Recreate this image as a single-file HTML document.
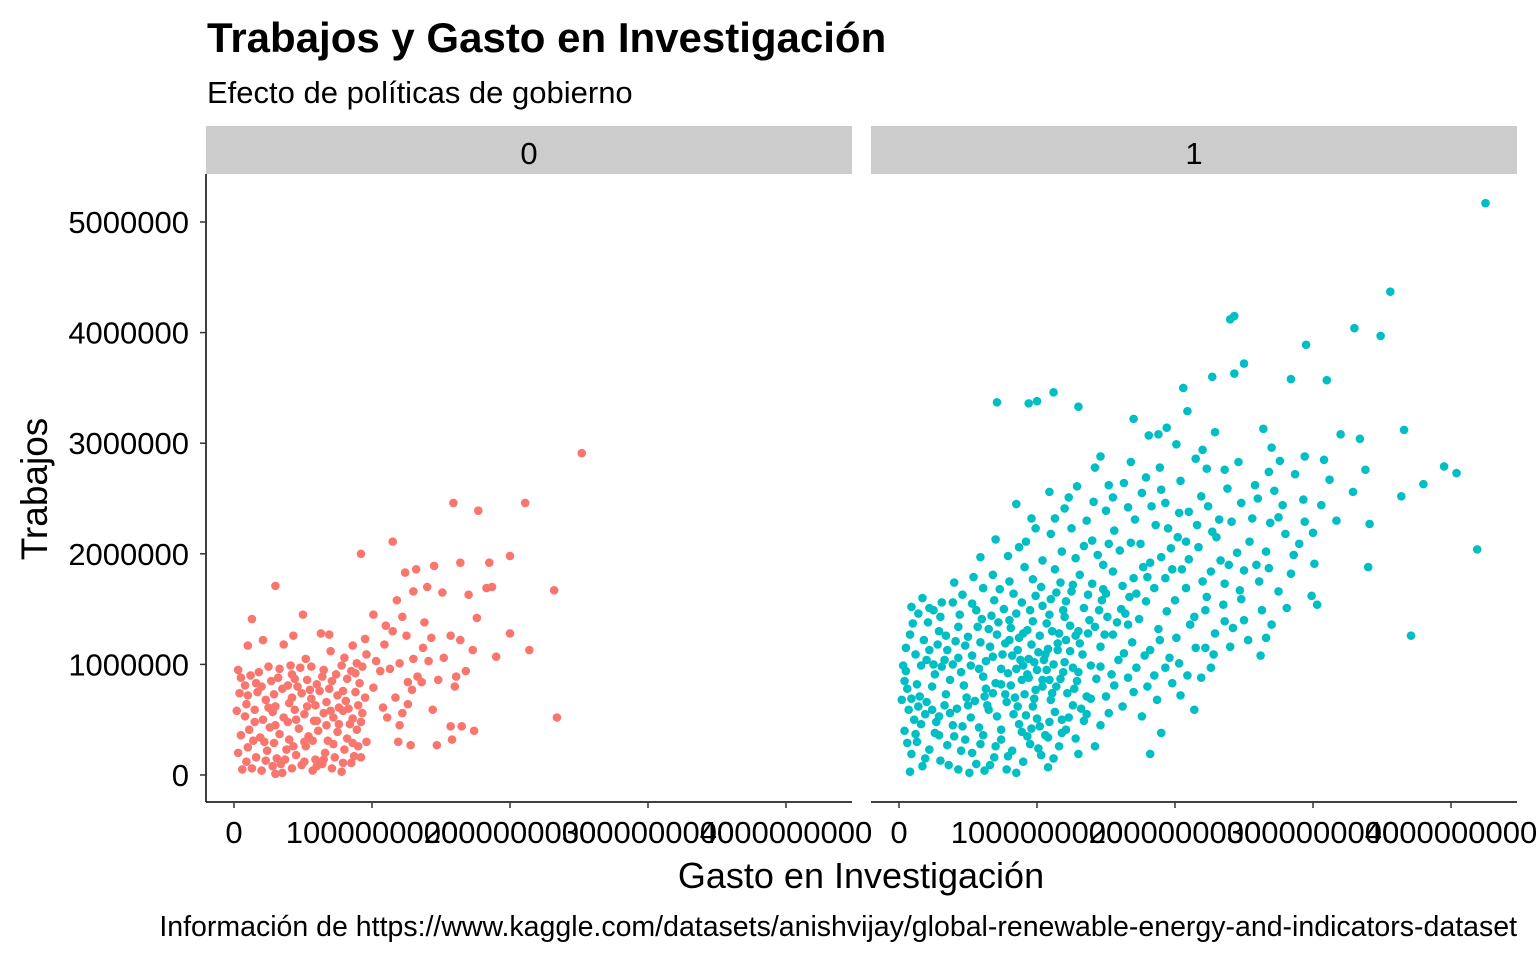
<!DOCTYPE html>
<html><head><meta charset="utf-8"><style>
body{margin:0;background:#fff;}
svg text{font-family:"Liberation Sans",Arial,sans-serif;}
</style></head><body>
<svg id="chart" width="1536" height="960" xmlns="http://www.w3.org/2000/svg">
<rect width="1536" height="960" fill="#fff"/>
<text x="207" y="52" font-size="42" font-weight="bold">Trabajos y Gasto en Investigación</text>
<text x="207" y="103" font-size="31">Efecto de políticas de gobierno</text>
<rect x="206" y="126" width="646" height="48" fill="#cccccc"/>
<text x="529" y="164" font-size="31" text-anchor="middle">0</text>
<rect x="871" y="126" width="646" height="48" fill="#cccccc"/>
<text x="1194" y="164" font-size="31" text-anchor="middle">1</text>
<text transform="translate(47,489) rotate(-90)" font-size="37" text-anchor="middle">Trabajos</text>
<text x="861" y="888" font-size="36" text-anchor="middle">Gasto en Investigación</text>
<text x="1517" y="936" font-size="28.5" text-anchor="end">Información de https://www.kaggle.com/datasets/anishvijay/global-renewable-energy-and-indicators-dataset</text>
<g id="axes"></g>
<g id="points"></g>
</svg>
<script>
// x values in units of 1e8 (spend), y values in units of 1e5 (jobs)
const xTicks = [0, 1000000000, 2000000000, 3000000000, 4000000000];
const xTickLabels = ["0", "1000000000", "2000000000", "3000000000", "4000000000"];
const yTicks = [0, 1000000, 2000000, 3000000, 4000000, 5000000];
const yTickLabels = ["0", "1000000", "2000000", "3000000", "4000000", "5000000"];
const panels = ["0", "1"];
const panel0Points = [
[25.2,29.1],[21.1,24.6],[15.9,24.6],[17.7,23.9],[23.2,16.7],[23.4,5.2],[21.4,11.3],[20.0,19.8],[20.0,12.8],[18.5,19.2],[11.5,21.1],[9.2,20.0],[3.0,17.1],[1.3,14.1],[5.0,14.5],[6.9,12.7],
[18.7,17.0],[18.3,16.9],[16.4,19.2],[14.5,18.9],[13.2,18.6],[12.4,18.3],[14.0,17.0],[13.0,16.6],[15.1,16.5],[17.0,16.3],[11.8,15.8],[12.2,14.3],[10.1,14.5],[11.0,13.5],[11.5,13.0],[12.5,12.6],[13.8,13.8],[14.3,12.4],[15.7,12.6],[16.4,12.2],[17.6,14.2],[17.3,11.3],[19.0,10.7],[16.8,9.4],[16.1,8.9],[14.8,8.6],[13.6,8.4],[12.9,7.7],[13.3,8.9],[11.7,7.0],[12.6,6.4],[10.8,6.1],[12.2,5.6],[11.1,5.2],[12.0,4.5],[14.4,5.9],[15.7,4.4],[16.5,4.4],[17.4,4.0],[15.8,3.2],[14.7,2.7],[11.9,3.0],[12.8,2.7],[10.1,7.9],[10.6,9.4],[11.3,9.6],[12.0,10.1],[13.0,10.5],[14.1,10.3],[15.2,10.6],[16.0,8.0],[9.3,9.8],[9.6,10.9],[8.6,11.7],[9.5,12.3],[8.8,9.2],
[0.3,9.5],[0.5,8.8],[1.2,9.0],[1.8,9.3],[2.5,9.8],[3.3,9.6],[4.1,9.9],[4.8,9.7],[5.6,9.8],[6.5,9.5],[7.4,9.1],[8.2,8.7],[0.4,7.4],[1.0,7.2],[1.7,7.5],[2.3,6.8],[2.9,7.3],[3.5,7.8],[4.2,7.0],[4.9,7.4],[5.6,6.9],[6.2,7.6],[6.9,7.8],[7.5,7.2],[8.1,6.7],[8.8,7.5],[9.5,7.0],[0.2,5.8],[0.8,5.3],[1.5,5.9],[2.1,5.0],[2.8,5.7],[3.6,5.2],[4.4,5.9],[5.1,5.5],[5.8,4.9],[6.5,5.6],[7.2,5.2],[7.9,5.8],[8.6,5.1],[9.3,5.6],[0.5,3.6],[1.1,4.1],[1.9,3.4],[2.6,4.3],[3.3,3.7],[4.0,3.2],[4.7,4.2],[5.4,3.5],[6.1,4.0],[6.8,3.1],[7.5,3.9],[8.2,3.3],[8.9,4.1],[9.6,3.0],[0.3,2.0],[1.0,2.5],[1.6,1.6],[2.4,2.2],[3.1,1.5],[3.8,2.3],[4.5,1.8],[5.2,2.6],[5.9,1.4],[6.6,2.0],[7.3,1.6],[8.0,2.3],[8.7,1.7],[0.6,0.5],[1.3,0.6],[2.0,0.4],[2.8,0.8],[3.5,0.2],[4.2,0.6],[4.9,0.9],[5.7,0.4],[6.4,1.0],[7.1,0.6],[7.8,0.3],[8.5,1.1],[3.0,0.1],[1.6,8.3],[2.7,8.5],[3.9,8.1],[5.3,8.6],[6.0,8.2],[7.1,8.5],[7.8,9.9],[8.5,9.4],[4.6,8.0],[5.9,6.3],[3.0,6.2],[7.6,6.1],[9.1,8.3],[6.3,12.8],[4.3,12.6],[2.1,12.2],[3.6,11.8],[1.0,11.7],[7.0,11.2],[8.0,10.6],[5.2,10.5],[3.9,4.8],[6.7,4.5],[8.4,4.6],[2.2,3.0],[5.1,3.0],[9.0,2.6],[3.4,1.0],[6.0,0.8],
[0.8,8.1],[2.0,8.0],[3.2,8.8],[4.4,8.7],[5.5,7.7],[6.7,6.6],[7.9,7.6],[9.0,6.3],[0.9,6.4],[2.5,6.1],[4.0,6.5],[5.3,6.2],[7.0,5.8],[8.3,6.0],[1.5,4.8],[3.0,4.5],[4.5,5.0],[6.0,4.9],[7.6,4.6],[9.2,4.8],[1.4,3.1],[2.9,2.9],[4.3,2.6],[5.7,3.1],[7.2,2.8],[8.6,2.9],[0.9,1.2],[2.3,1.3],[3.7,1.4],[5.1,1.2],[6.5,1.4],[7.9,1.1],[9.2,1.6],[4.2,9.1],[6.4,8.9],[8.9,10.1],[10.3,10.3],[10.9,11.8],[12.6,8.4],[13.7,11.5]
];
const panel1Points = [
[42.5,51.7],[35.6,43.7],[33.0,40.4],[34.9,39.7],[24.3,41.5],[24.0,41.2],[29.5,38.9],[25.0,37.2],[24.3,36.3],[20.6,35.0],[22.7,36.0],[28.4,35.8],[31.0,35.7],[10.0,33.8],[11.2,34.6],[13.0,33.3],[7.1,33.7],[9.4,33.6],[36.6,31.2],[39.5,27.9],[40.4,27.3],[38.0,26.3],[41.9,20.4],[37.1,12.6],[36.4,25.2],[34.0,18.8],[34.1,22.7],[33.8,27.6],[33.4,30.4],[32.0,30.8],[30.6,24.4],[30.3,15.4],[29.9,16.2],[26.6,12.4],[22.6,9.7],[21.4,5.9],[18.2,1.9],[19.0,3.8],
[20.9,32.9],[19.4,31.4],[17.0,32.2],[18.8,30.8],[22.9,31.0],[26.4,31.3],[24.6,28.3],[26.8,27.4],[27.6,28.4],[28.7,27.2],[30.8,28.5],[29.4,22.9],[27.5,23.3],[25.8,26.2],[23.8,25.9],[22.3,27.7],[21.5,28.6],[20.1,29.9],[18.1,30.7],[16.8,28.3],[14.2,27.8],[12.9,26.1],[10.9,25.6],[8.5,24.5],[9.6,23.2],[12.0,24.1],[14.1,24.7],[15.5,25.1],[17.6,25.5],[19.3,24.6],[21.0,23.8],[22.4,24.3],[24.1,22.9],[25.6,23.2],[27.2,25.7],[29.0,20.9],[30.1,19.1],[28.4,18.2],[26.1,17.5],[24.7,16.7],[23.3,19.4],[21.7,20.6],[20.2,21.5],[18.6,22.6],[17.1,23.1],[15.6,22.1],[14.0,21.2],[12.5,22.3],[11.0,21.8],[9.2,21.1],[7.9,19.8],[6.8,18.1],[5.4,17.9],[4.0,17.4],[3.1,15.6],[2.2,15.1],[1.0,13.7],[1.8,12.2],[2.9,13.0],[4.4,14.5],[5.6,14.9],[6.9,15.8],[8.3,16.4],[9.7,17.7],[11.3,18.6],[12.8,19.6],[14.4,19.9],[16.0,20.3],[17.5,20.9],[19.0,19.7],[20.5,18.6],[22.0,17.5],[23.5,15.4],[25.0,14.0],[26.3,14.9],[24.2,13.3],[22.9,12.8],[21.4,14.3],[20.0,15.8],[18.5,16.9],[17.0,17.8],[15.5,18.4],[14.0,17.3],[12.5,16.6],[11.0,15.9],[9.5,14.9],[8.0,14.0],[6.5,13.2],[5.0,12.5],[3.5,11.3],[2.0,10.4],[0.5,9.4],[1.3,8.2],[2.6,9.1],[3.9,10.0],[5.3,10.8],[6.6,11.6],[8.0,12.2],[9.3,13.1],[10.7,13.7],[12.0,14.3],[13.4,15.1],[14.7,15.8],[16.1,15.0],[17.4,14.1],[18.8,13.2],[20.1,12.4],[21.5,11.5],[19.6,10.6],[18.2,11.3],[16.9,12.0],[15.5,12.7],[14.2,13.4],[12.8,12.6],[11.5,11.9],[10.1,11.1],[8.8,10.4],[7.4,9.6],[6.1,8.9],[4.7,8.1],[3.4,7.3],[2.0,6.6],[0.7,5.9],[0.4,4.0],[1.6,4.6],[2.9,5.3],[4.2,6.0],[5.5,6.7],[6.8,7.4],[8.1,8.1],[9.4,8.8],[10.7,9.5],[12.0,10.2],[13.3,10.9],[14.6,11.6],[15.9,10.4],[17.2,9.7],[18.5,9.0],[19.8,8.3],[17.0,7.5],[15.6,8.1],[14.3,8.7],[13.0,9.3],[11.7,8.7],[10.4,8.0],[9.1,7.3],[7.8,6.6],[6.5,5.9],[5.2,5.2],[3.9,4.5],[2.6,3.8],[1.3,3.0],[0.9,1.9],[2.2,2.3],[3.5,2.7],[4.8,3.2],[6.1,3.6],[7.4,4.1],[8.7,4.6],[10.0,5.1],[11.3,5.7],[12.6,6.3],[13.9,6.9],[15.2,5.6],[13.4,4.9],[12.1,4.1],[10.8,3.4],[9.5,2.8],[8.2,2.2],[6.9,1.6],[5.6,1.0],[4.3,0.5],[3.0,1.3],[1.7,0.8],[0.8,0.3],[7.8,0.5],[9.0,1.2],[10.3,1.8],[11.6,2.6],[12.8,3.3],[14.2,2.6],[8.5,0.2],[6.2,0.4],[10.8,0.7],
[9.0,9.9],[9.8,10.2],[10.5,10.4],[11.2,10.0],[10.8,11.4],[9.6,11.8],[8.6,11.3],[10.2,12.6],[11.6,12.8],[12.4,11.2],[13.1,11.9],[11.9,9.3],[10.9,8.6],[9.9,7.7],[8.9,8.6],[7.9,9.2],[12.7,7.8],[13.6,7.1],[14.6,9.8],[15.4,9.1],[16.3,11.0],[16.6,13.6],[15.1,14.3],[13.8,14.0],[12.4,13.5],[11.1,13.0],[9.0,12.8],[8.1,13.3],[7.1,12.7],[6.3,10.3],[5.8,9.6],[7.0,8.3],[8.4,7.0],[9.7,6.2],[11.0,6.8],[12.2,7.4],[13.2,6.0],[6.2,7.1],[4.9,7.0],[3.7,8.6],[2.4,8.0],[1.5,7.1],[0.9,6.9],[3.1,9.8],[4.5,9.3],[5.9,12.0],[7.5,10.9],[6.7,14.4],[7.6,15.0],[5.3,15.5],[4.1,12.1],[2.8,11.8],[1.2,10.9],[0.6,7.8],[1.9,5.5],[3.3,6.3],[4.6,4.4],[5.8,4.3],[7.1,5.3],[8.3,5.5],[9.6,4.2],[10.9,4.8],[12.3,5.2],[14.6,4.5],[16.2,6.2],[17.6,5.3],[18.7,6.8],[20.4,7.2],[21.9,8.8],[22.8,10.9],[24.0,11.6],[25.3,12.2],[26.2,10.8],[27.0,13.6],[28.1,15.1],[27.5,16.6],[25.9,19.0],[24.5,20.1],[23.0,21.5],[21.6,22.6],[20.3,23.7],[19.0,25.8],[17.9,26.9],[16.3,26.4],[15.0,23.9],[13.6,23.0],[13.4,20.7],[11.8,20.2],[10.4,19.4],[9.1,18.8],[8.0,17.5],[6.1,16.9],[10.3,17.0],[11.7,17.4],[13.1,18.1],[14.8,16.8],[16.2,17.1],[17.7,18.8],[19.3,17.8],[20.8,16.9],[22.3,16.1],[23.6,17.3],[25.0,18.5],[26.6,20.2],[28.0,21.8],[29.3,24.9],[26.9,22.8],[24.8,24.6],[23.2,23.1],[21.9,25.2],[20.4,26.6],[18.9,27.8],[22.0,29.4],[23.6,27.6],[19.7,20.5],[18.2,19.2],[16.8,21.0],[15.2,20.9],[14.8,19.0],[12.1,15.7],[10.4,15.3],[8.9,15.6],[7.3,16.8],[6.0,14.1],[4.8,11.7],[3.4,12.6],[2.1,13.8],[1.4,14.6],[0.8,12.7],[0.3,9.9],[0.5,11.5],[2.5,10.0],[17.8,10.8],[18.9,12.2],[20.3,10.1],[21.1,13.6],[22.2,14.9],[19.4,14.8],[17.9,15.7],[16.4,14.6],[15.0,16.4],[13.7,16.3],[12.6,17.2],[11.4,16.5],[9.9,16.2],[8.5,14.6],[7.2,13.8],[5.7,13.4],[4.3,13.4],[3.0,14.3],[6.4,6.3],[7.7,7.3],[9.2,5.4],[10.6,3.6],[11.8,3.8],[13.0,1.9],[7.0,2.6],[5.3,2.0],[4.0,3.5],[2.7,4.8],[1.4,6.2],[0.2,6.8],[0.6,2.9],[1.9,1.5],[3.6,0.9],[5.1,0.2],[6.6,0.9],[7.9,1.7],[9.3,3.5],[10.1,2.4],[11.2,1.5],
[8.2,10.8],[9.4,10.5],[10.0,9.5],[10.6,10.9],[11.5,11.3],[12.1,12.2],[9.3,9.1],[8.5,9.6],[10.4,8.6],[11.1,7.4],[12.9,8.5],[13.9,9.9],[14.9,12.7],[15.8,13.8],[13.0,13.0],[11.9,14.9],[10.9,14.5],[9.7,13.9],[8.7,12.4],[7.7,11.9],[6.8,10.7],[5.2,9.9],[4.3,10.6],[3.3,10.4],[2.2,11.3],[1.6,9.9],[0.4,8.5],[1.1,5.0],[2.4,5.9],[3.7,5.6],[5.0,6.3],[6.3,7.8],[7.4,8.2],[8.6,6.2],[9.8,6.9],[11.4,8.0],[12.6,9.7],[13.7,12.8],[14.5,14.9],[16.7,16.1],[17.2,16.4],[18.0,17.9],[19.8,18.6],[21.0,19.5],[22.6,18.4],[23.9,19.0],[25.4,21.1],[22.7,22.0],[20.8,21.1],[19.5,22.3],[18.3,24.3],[16.6,24.2],[15.2,26.2],[14.6,28.8],[12.3,25.1],[11.3,23.2],[9.9,22.3],[8.7,20.6],[7.0,21.3],[5.9,19.7],[4.6,16.3],[3.9,15.6],[2.5,14.9],[1.7,16.0],[0.9,15.2],[1.2,3.7],[2.9,3.6],[4.5,2.2],[5.9,2.8],[7.4,3.2],[8.9,3.9],[10.2,4.4],[11.8,5.0],[13.6,5.5],[15.0,7.1],[16.6,8.8],[18.0,8.0],[19.3,9.7],[20.9,9.0],[22.2,11.5],[23.6,13.9],[24.8,15.9],[26.8,18.7],[28.6,19.9],[27.8,24.4],[26.0,25.0],[30.0,21.9],[31.7,23.0],[32.9,25.6],[31.2,26.7],[29.4,28.8],[27.0,29.6]
];
const panelX0 = [234, 899];
const pxPerSpend = 138 / 1e9, pxPerJobs = 110.6 / 1e6;
function xScale(p, v) { return panelX0[p] + v * pxPerSpend; }
function yScale(v) { return 775 - v * pxPerJobs; }
const NS = "http://www.w3.org/2000/svg";
const axes = document.getElementById("axes");
const pts = document.getElementById("points");
function mk(tag, attrs, parent) { const e = document.createElementNS(NS, tag); for (const k in attrs) e.setAttribute(k, attrs[k]); parent.appendChild(e); return e; }
const yAxis = mk("line", {x1:206, y1:174, x2:206, y2:802, stroke:"#000", "stroke-width":1.5}, axes);


yTicks.forEach((t, i) => {
  const y = yScale(t);
  const tk = mk("line", {x1:200, y1:y, x2:206, y2:y, stroke:"#333", "stroke-width":1.5}, axes);
  
  
  const tl = mk("text", {x:189, y:y + 11, "font-size":31, "text-anchor":"end", fill:"#000"}, axes);
  tl.textContent = yTickLabels[i];
  
  
});
panels.forEach((p, pi) => {
  const left = pi === 0 ? 206 : 871;
  const xa = mk("line", {x1:left, y1:802, x2:left + 646, y2:802, stroke:"#000", "stroke-width":1.5}, axes);
  
  
  xTicks.forEach((t, i) => {
    const x = xScale(pi, t);
    const tk = mk("line", {x1:x, y1:802, x2:x, y2:808, stroke:"#333", "stroke-width":1.5}, axes);
    
    
    const tl = mk("text", {x:x, y:843, "font-size":31, "text-anchor":"middle", fill:"#000"}, axes);
    tl.textContent = xTickLabels[i];
    
    
  });
});
const series = [panel0Points, panel1Points];
const colors = ["#F8766D", "#00BFC4"];
series.forEach((arr, pi) => {
  arr.forEach(d => {
    const c = mk("circle", {cx:xScale(pi, d[0] * 1e8), cy:yScale(d[1] * 1e5), r:4.3, fill:colors[pi]}, pts);
    
    
  });
});
</script>
</body></html>
